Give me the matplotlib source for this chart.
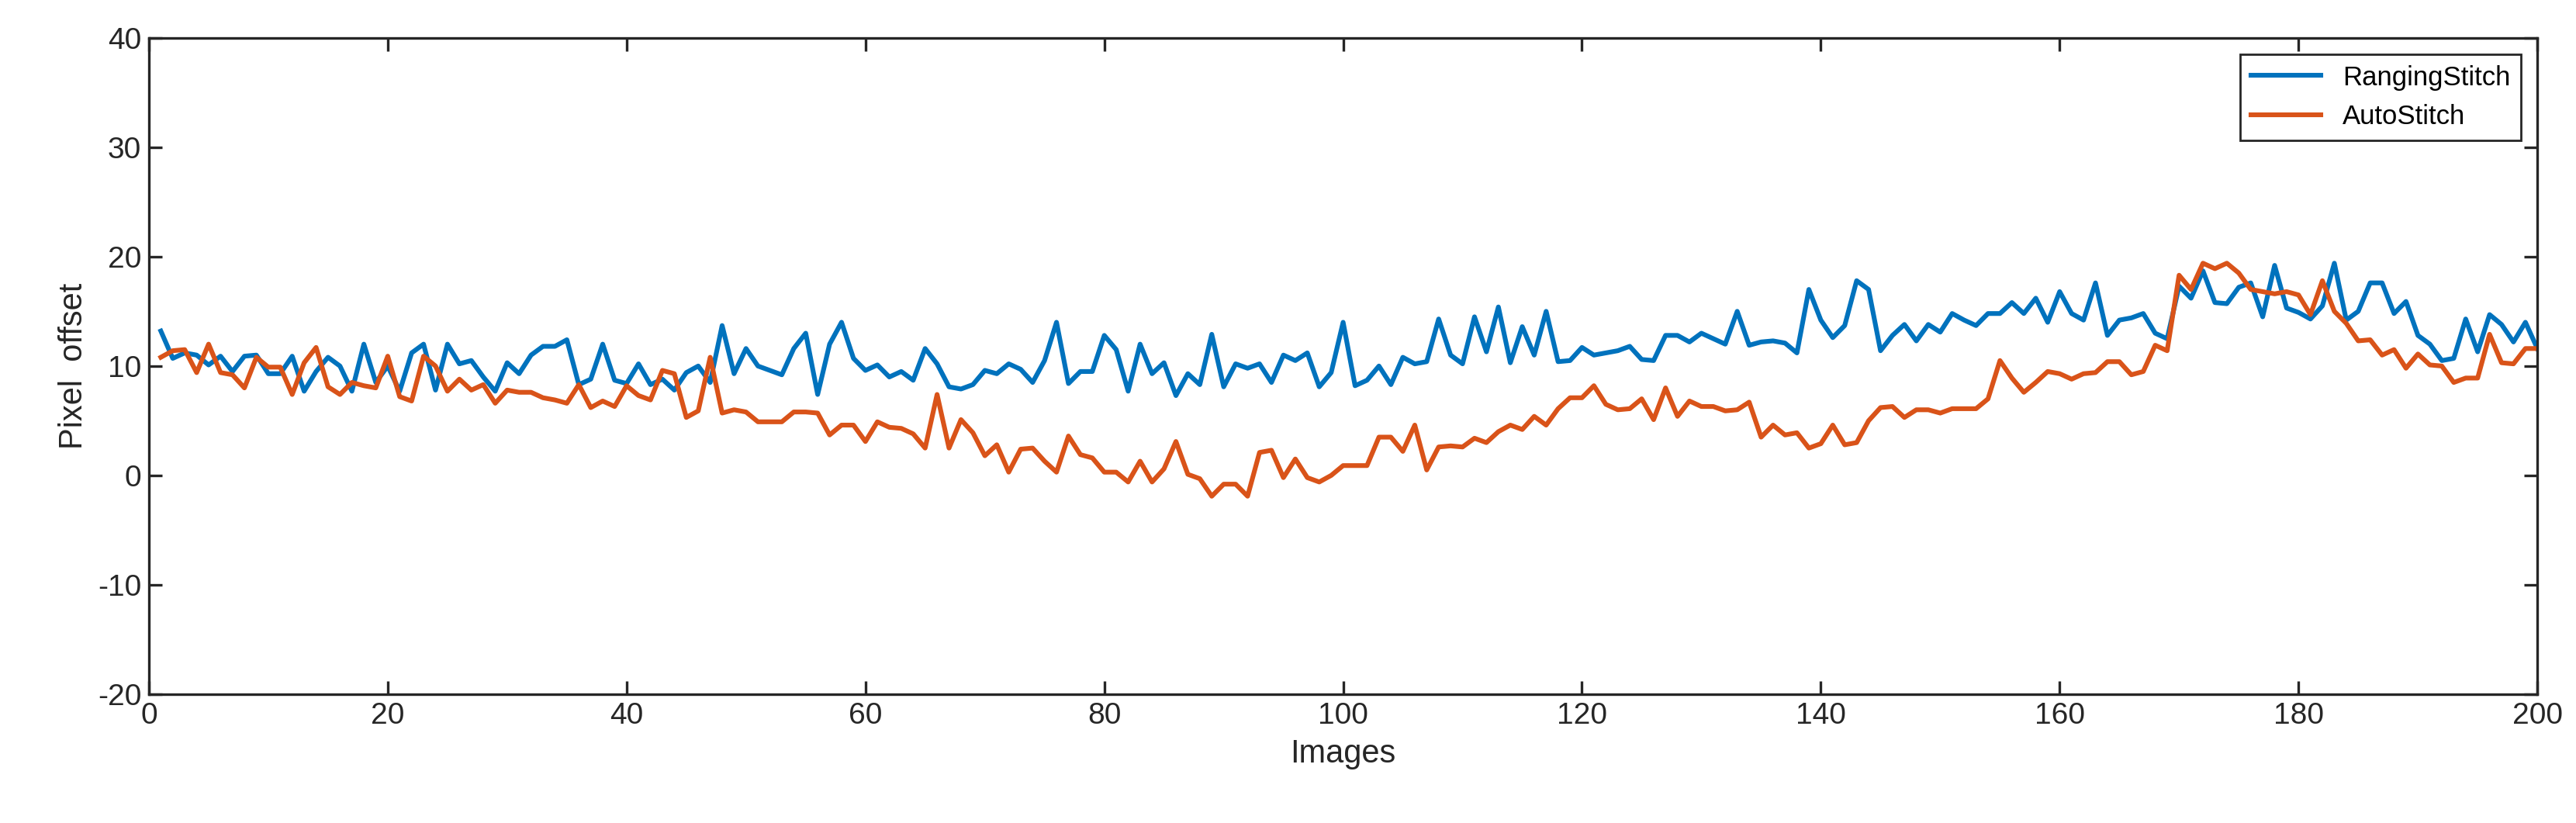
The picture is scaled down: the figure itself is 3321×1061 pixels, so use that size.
import matplotlib
matplotlib.use("Agg")
import matplotlib.pyplot as plt
import numpy as np

plt.rcParams['font.family'] = ['Liberation Sans', 'DejaVu Sans']
plt.rcParams['axes.unicode_minus'] = False

blue_a = [13.2,10.7,11.2,11.0,10.1,10.9,9.5,10.9,11,9.3,9.3,10.9,7.7,9.5,10.8,10,7.7,12,8.5,10,7.7,11.2,12,7.8,12,10.2,10.5,9,7.7,10.3,9.3,11,11.8,11.8,12.4,8.3,8.8,12,8.7,8.4,10.2,8.3,8.8,7.8,9.4,10,8.5,13.7,9.3]
blue_b = [11.6,10,9.6,9.2,11.6,13,7.4,12,14,10.7,9.6,10.1,9,9.5,8.7,11.6,10.2,8.1,7.9,8.3,9.6,9.3,10.2,9.7,8.5,10.5,14,8.4,9.5,9.5,12.8,11.5,7.7,12,9.3,10.3,7.3,9.3,8.3,12.9,8.1,10.2,9.8,10.2,8.5,11.0,10.5,11.2,8.1,9.4,14,8.2,8.7]
blue_c = [10,8.3,10.8,10.2,10.4,14.3,11,10.2,14.5,11.3,15.4,10.3,13.6,11,15,10.4,10.5,11.7,11,11.2,11.4,11.8,10.6,10.5,12.8,12.8,12.2,13,12.5,12,15,11.9,12.2,12.3,12.1,11.2,17,14.2,12.6,13.7,17.8,17,11.4,12.8,13.8,12.3,13.8]
blue_d = [13.1,14.8,14.2,13.7,14.8,14.8,15.8,14.8,16.2,14,16.8,14.8,14.2,17.6,12.8,14.2,14.4,14.8,13,12.5,17.3,16.2,18.7,15.8,15.7,17.2,17.6,14.5,19.2,15.3,14.9,14.3,15.5,19.4,14.2,15,17.6,17.6,14.8,15.9,12.8,12,10.5,10.7,14.3,11.3,14.7,13.8,12.2,14,11.6]

orange_a = [10.8,11.4,11.5,9.4,12,9.4,9.2,8,10.8,9.9,9.9,7.4,10.3,11.7,8.1,7.4,8.5,8.2,8.0,10.9,7.2,6.8,10.9,10,7.7,8.8,7.8,8.3,6.6,7.8,7.6,7.6,7.1,6.9,6.6,8.3,6.2,6.8,6.3,8.2,7.3,6.9,9.6,9.3,5.3,5.9,10.8,5.7,6]
orange_b = [5.8,4.9,4.9,4.9,5.8,5.8,5.7,3.7,4.6,4.6,3.1,4.9,4.4,4.3,3.8,2.5,7.4,2.5,5.1,3.9,1.8,2.8,0.3,2.4,2.5,1.3,0.3,3.6,1.9,1.6,0.3,0.3,-0.6,1.3,-0.6,0.6,3.1,0.1,-0.3,-1.9,-0.8,-0.8,-1.9,2.1,2.3,-0.2,1.5,-0.2,-0.6,0,0.9,0.9,0.9]
orange_c = [3.5,3.5,2.2,4.6,0.5,2.6,2.7,2.6,3.4,3,4,4.6,4.2,5.4,4.6,6.1,7.1,7.1,8.2,6.5,6,6.1,7,5.1,8,5.4,6.8,6.3,6.3,5.9,6,6.7,3.5,4.6,3.7,3.9,2.5,2.9,4.6,2.8,3,5,6.2,6.3,5.3,6,6]
orange_d = [5.7,6.1,6.1,6.1,7,10.5,8.9,7.6,8.5,9.5,9.3,8.8,9.3,9.4,10.4,10.4,9.2,9.5,11.9,11.4,18.3,17,19.4,18.9,19.4,18.5,17,16.8,16.6,16.8,16.5,14.7,17.8,15,13.9,12.3,12.4,11,11.5,9.8,11.1,10.1,10,8.5,8.9,8.9,12.9,10.3,10.2,11.6,11.6]

ranging = blue_a + blue_b + blue_c + blue_d
auto = orange_a + orange_b + orange_c + orange_d
images = np.arange(1, len(ranging) + 1)

fig = plt.figure(figsize=(3321/200, 1061/200), dpi=200)
ax = fig.add_axes([0.0578, 0.1565, 0.9272, 0.7975])
ax.plot(images, ranging, color='#0072BD', lw=2.2, label='RangingStitch')
ax.plot(np.arange(1, len(auto) + 1), auto, color='#D95319', lw=2.2, label='AutoStitch')
ax.set_xlim(0, 200)
ax.set_ylim(-20, 40)
ax.set_xticks(np.arange(0, 201, 20))
ax.set_yticks(np.arange(-20, 41, 10))
ax.tick_params(direction='in', top=True, right=True, labelsize=14, length=6, width=1.2, colors='#262626')
for s in ax.spines.values():
    s.set_linewidth(1.2)
    s.set_color('#262626')
ax.set_xlabel('Images', fontsize=15, color='#262626')
ax.set_ylabel('Pixel  offset', fontsize=15, color='#262626')
leg = ax.legend(loc='upper right', fontsize=12.5, fancybox=False, edgecolor='#262626',
                framealpha=1, handlelength=2.6, borderaxespad=0.6)
leg.get_frame().set_linewidth(1.0)
fig.savefig('out.png', dpi=200)
